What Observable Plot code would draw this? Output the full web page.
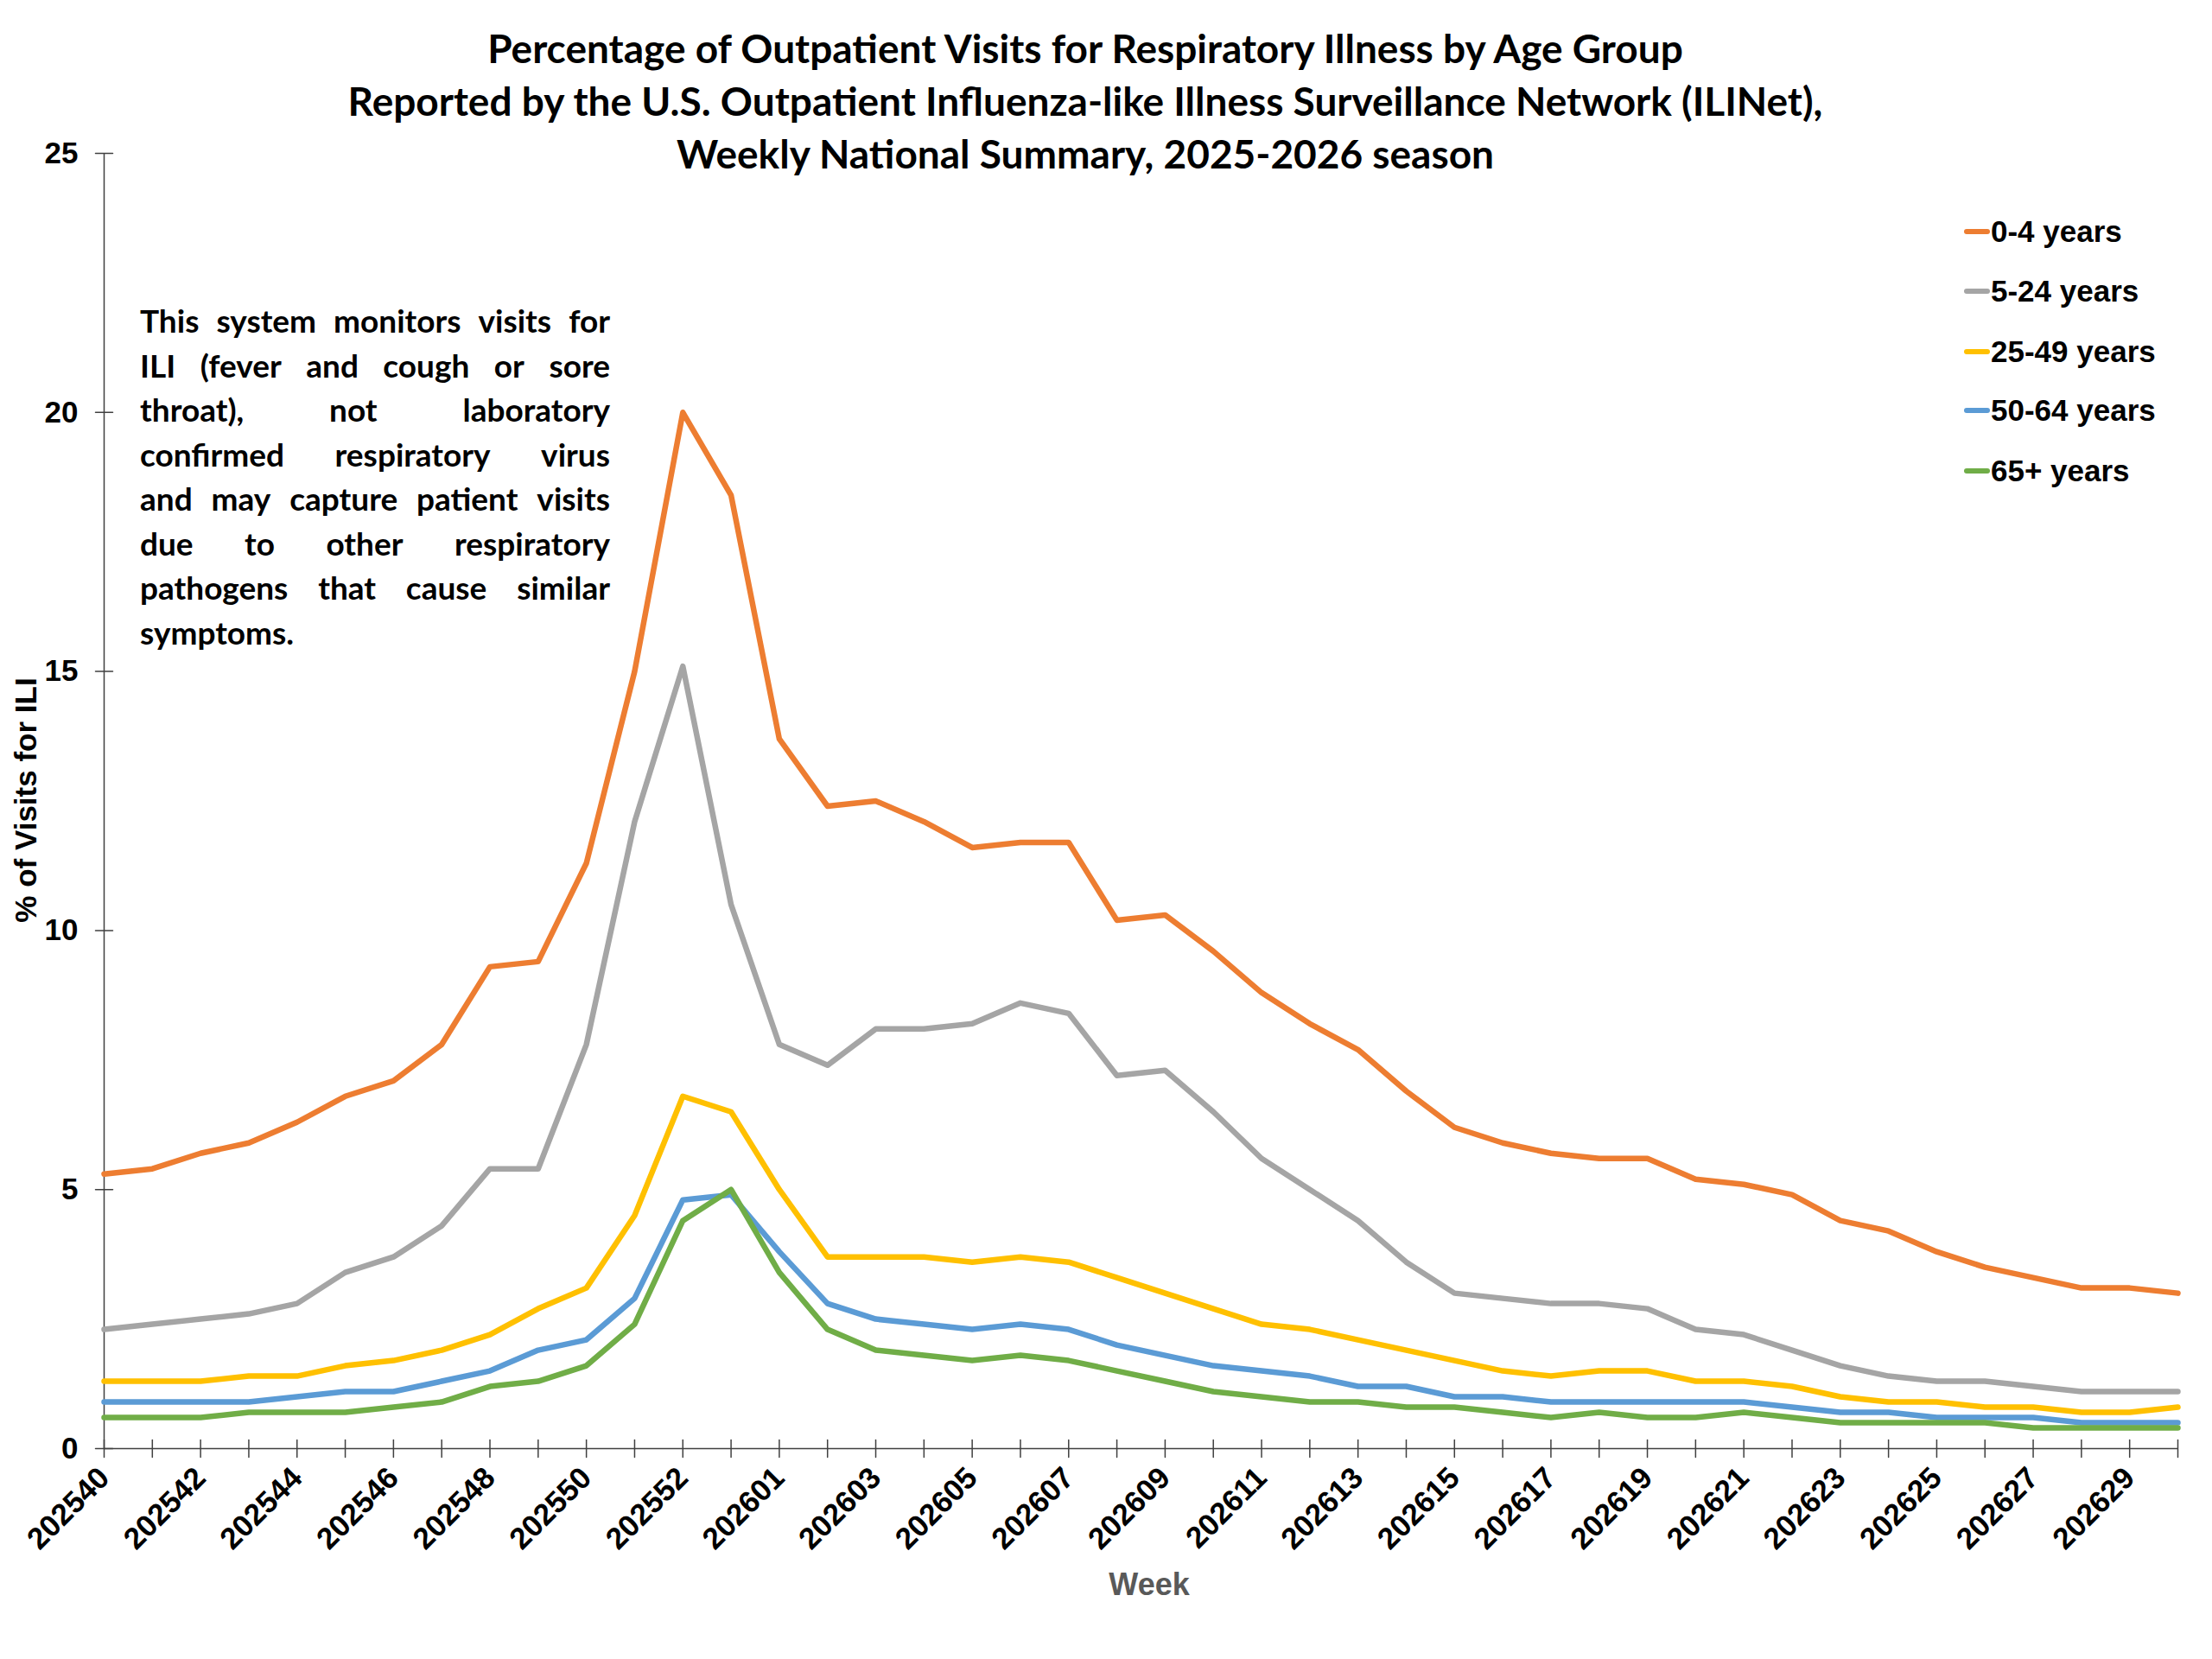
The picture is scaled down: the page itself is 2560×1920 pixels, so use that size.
<!DOCTYPE html>
<html>
<head>
<meta charset="utf-8">
<script src="https://cdn.jsdelivr.net/npm/d3@7"></script>
<script src="https://cdn.jsdelivr.net/npm/@observablehq/plot@0.6"></script>
<style>
  html, body { margin: 0; padding: 0; background: #fff; }
  #wrap { position: relative; width: 2560px; height: 1920px; overflow: hidden; background: #fff; }
  #title {
    height: 150px; width: 2512px; box-sizing: border-box; padding-top: 25px;
    text-align: center; font-family: Lato, "Open Sans", sans-serif; font-weight: 700;
    font-size: 46px; line-height: 61px; color: #000; white-space: nowrap;
  }
  #note {
    position: absolute; left: 162px; top: 345px; width: 544px;
    font-family: Lato, "Open Sans", sans-serif; font-weight: 700; font-size: 37px;
    line-height: 51.5px; color: #000;
  }
  #note .ln { display: flex; justify-content: space-between; white-space: nowrap; }
  #note .ln.last { justify-content: flex-start; }
  #legend { position: absolute; left: 2273px; top: 0; font-family: "Liberation Sans", Arial, sans-serif; font-weight: 700; font-size: 35px; color: #000; }
  #legend .item { position: absolute; left: 0; height: 40px; display: flex; align-items: center; white-space: nowrap; }
  #legend .sw { width: 30px; height: 6px; border-radius: 3px; margin-right: 1px; }
  #xlabel { position: absolute; left: 1230px; width: 200px; top: 1813px; text-align: center;
    font-family: "Liberation Sans", Arial, sans-serif; font-weight: 700; font-size: 36px; color: #595959; }
  #ylabel { position: absolute; left: 30px; top: 926px; transform: translate(-50%, -50%) rotate(-90deg);
    font-family: "Liberation Sans", Arial, sans-serif; font-weight: 700; font-size: 35px; color: #000; white-space: nowrap; }
</style>
</head>
<body>
<div id="wrap">
  <div id="title"></div>
  <div id="chart"></div>
  <div id="note"></div>
  <div id="legend"></div>
  <div id="xlabel"></div>
  <div id="ylabel"></div>
</div>
<script>
// ---- Data ----
const titleLines = [
  "Percentage of Outpatient Visits for Respiratory Illness by Age Group",
  "Reported by the U.S. Outpatient Influenza-like Illness Surveillance Network (ILINet),",
  "Weekly National Summary, 2025-2026 season"
];
const noteLines = [
  "This system monitors visits for",
  "ILI (fever and cough or sore",
  "throat), not laboratory",
  "confirmed respiratory virus",
  "and may capture patient visits",
  "due to other respiratory",
  "pathogens that cause similar",
  "symptoms."
];
const xTitle = "Week";
const yTitle = "% of Visits for ILI";

const weeks = [
  "202540","202541","202542","202543","202544","202545","202546","202547","202548","202549",
  "202550","202551","202552","202553","202601","202602","202603","202604","202605","202606",
  "202607","202608","202609","202610","202611","202612","202613","202614","202615","202616",
  "202617","202618","202619","202620","202621","202622","202623","202624","202625","202626",
  "202627","202628","202629","202630"
];
const xTickLabels = [
  "202540","202542","202544","202546","202548","202550","202552","202601","202603","202605",
  "202607","202609","202611","202613","202615","202617","202619","202621","202623","202625",
  "202627","202629"
];
const yTicks = [0, 5, 10, 15, 20, 25];

const ageGroups = ["0-4 years", "5-24 years", "25-49 years", "50-64 years", "65+ years"];
const ageColors = ["#ED7D31", "#A5A5A5", "#FFC000", "#5B9BD5", "#70AD47"];

const age0to4 = [
  5.3, 5.4, 5.7, 5.9, 6.3, 6.8, 7.1, 7.8, 9.3, 9.4,
  11.3, 15.0, 20.0, 18.4, 13.7, 12.4, 12.5, 12.1, 11.6, 11.7,
  11.7, 10.2, 10.3, 9.6, 8.8, 8.2, 7.7, 6.9, 6.2, 5.9,
  5.7, 5.6, 5.6, 5.2, 5.1, 4.9, 4.4, 4.2, 3.8, 3.5,
  3.3, 3.1, 3.1, 3.0
];
const age5to24 = [
  2.3, 2.4, 2.5, 2.6, 2.8, 3.4, 3.7, 4.3, 5.4, 5.4,
  7.8, 12.1, 15.1, 10.5, 7.8, 7.4, 8.1, 8.1, 8.2, 8.6,
  8.4, 7.2, 7.3, 6.5, 5.6, 5.0, 4.4, 3.6, 3.0, 2.9,
  2.8, 2.8, 2.7, 2.3, 2.2, 1.9, 1.6, 1.4, 1.3, 1.3,
  1.2, 1.1, 1.1, 1.1
];
const age25to49 = [
  1.3, 1.3, 1.3, 1.4, 1.4, 1.6, 1.7, 1.9, 2.2, 2.7,
  3.1, 4.5, 6.8, 6.5, 5.0, 3.7, 3.7, 3.7, 3.6, 3.7,
  3.6, 3.3, 3.0, 2.7, 2.4, 2.3, 2.1, 1.9, 1.7, 1.5,
  1.4, 1.5, 1.5, 1.3, 1.3, 1.2, 1.0, 0.9, 0.9, 0.8,
  0.8, 0.7, 0.7, 0.8
];
const age50to64 = [
  0.9, 0.9, 0.9, 0.9, 1.0, 1.1, 1.1, 1.3, 1.5, 1.9,
  2.1, 2.9, 4.8, 4.9, 3.8, 2.8, 2.5, 2.4, 2.3, 2.4,
  2.3, 2.0, 1.8, 1.6, 1.5, 1.4, 1.2, 1.2, 1.0, 1.0,
  0.9, 0.9, 0.9, 0.9, 0.9, 0.8, 0.7, 0.7, 0.6, 0.6,
  0.6, 0.5, 0.5, 0.5
];
const age65plus = [
  0.6, 0.6, 0.6, 0.7, 0.7, 0.7, 0.8, 0.9, 1.2, 1.3,
  1.6, 2.4, 4.4, 5.0, 3.4, 2.3, 1.9, 1.8, 1.7, 1.8,
  1.7, 1.5, 1.3, 1.1, 1.0, 0.9, 0.9, 0.8, 0.8, 0.7,
  0.6, 0.7, 0.6, 0.6, 0.7, 0.6, 0.5, 0.5, 0.5, 0.5,
  0.4, 0.4, 0.4, 0.4
];

// ---- Build ----
const seriesValues = [age0to4, age5to24, age25to49, age50to64, age65plus];
const rows = ageGroups.flatMap((age, k) =>
  weeks.map((week, i) => ({ week, value: seriesValues[k][i], age }))
);

const axisColor = "#404040";
const tickShape = { draw(context, l) { context.moveTo(0, 0); context.lineTo(0, -l); } };

const chart = Plot.plot({
  width: 2560,
  height: 1770,
  marginTop: 27,
  marginBottom: 244,
  marginLeft: 120,
  marginRight: 40,
  style: { fontFamily: "'Liberation Sans', Arial, sans-serif", background: "white", overflow: "visible", color: "#000" },
  x: { type: "point", domain: weeks, padding: 0 },
  y: { domain: [0, 25] },
  color: { domain: ageGroups, range: ageColors },
  marks: [
    Plot.ruleX([weeks[0]], { y1: 0, y2: 25, stroke: axisColor, strokeWidth: 1.5 }),
    Plot.ruleY([0], { stroke: axisColor, strokeWidth: 1.5 }),
    Plot.vector(weeks, { x: d => d, y: () => 0, length: 20, anchor: "middle", shape: tickShape, stroke: axisColor, strokeWidth: 1.5 }),
    Plot.vector(yTicks, { x: () => weeks[0], y: d => d, rotate: 90, length: 20, anchor: "middle", shape: tickShape, stroke: axisColor, strokeWidth: 1.5 }),
    Plot.axisY({ ticks: yTicks, tickSize: 0, tickPadding: 30, fontSize: 35, fontWeight: "bold", label: null }),
    Plot.axisX({ ticks: xTickLabels, tickSize: 0, tickPadding: 28, tickRotate: -45, fontSize: 35, fontWeight: "bold", label: null }),
    Plot.line(rows, { x: "week", y: "value", z: "age", stroke: "age", strokeWidth: 6.5, strokeLinejoin: "round", strokeLinecap: "round" })
  ]
});
document.getElementById("chart").appendChild(chart);

// Title
const titleEl = document.getElementById("title");
titleLines.forEach(t => { const d = document.createElement("div"); d.textContent = t; titleEl.appendChild(d); });

// Note (justified lines)
const noteEl = document.getElementById("note");
noteLines.forEach((t, i) => {
  const d = document.createElement("div");
  d.className = "ln" + (i === noteLines.length - 1 ? " last" : "");
  const words = t.split(" ");
  words.forEach((w, j) => {
    const s = document.createElement("span");
    s.textContent = w;
    if (i === noteLines.length - 1 && j < words.length - 1) s.style.marginRight = "0.25em";
    d.appendChild(s);
  });
  noteEl.appendChild(d);
});

// Legend
const legendEl = document.getElementById("legend");
const legendY = [268, 337, 407, 475, 545];
ageGroups.forEach((g, i) => {
  const it = document.createElement("div");
  it.className = "item";
  it.style.top = (legendY[i] - 20) + "px";
  const sw = document.createElement("span");
  sw.className = "sw"; sw.style.background = ageColors[i];
  const tx = document.createElement("span");
  tx.textContent = g;
  it.appendChild(sw); it.appendChild(tx);
  legendEl.appendChild(it);
});

document.getElementById("xlabel").textContent = xTitle;
document.getElementById("ylabel").textContent = yTitle;
</script>
</body>
</html>
